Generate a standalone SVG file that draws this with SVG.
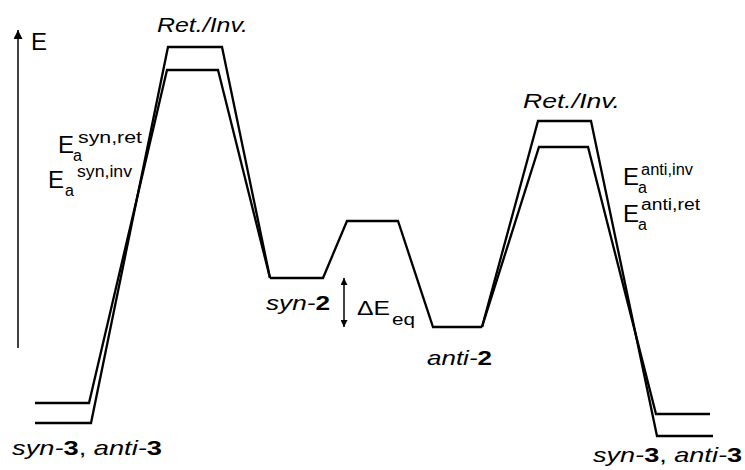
<svg xmlns="http://www.w3.org/2000/svg" width="745" height="470" viewBox="0 0 745 470">
<style>
.lvl{fill:none;stroke:#000;stroke-width:2.3;stroke-linejoin:miter}
.ax{fill:none;stroke:#000;stroke-width:1.5}
text{font-family:"Liberation Sans",Arial,sans-serif;fill:#000}
.big{font-size:24px}
.lab{font-size:21px}
.sup{font-size:16px}
.sub{font-size:16px}
.it{font-style:italic}
.b{font-weight:bold;font-style:normal}
</style>
<defs>
<marker id="ah" viewBox="0 0 10 10" refX="10" refY="5" markerWidth="14" markerHeight="9" markerUnits="userSpaceOnUse" orient="auto-start-reverse">
<path d="M0,0 L10,5 L0,10 Z" fill="#000"/>
</marker>
<marker id="ahs" viewBox="0 0 10 10" refX="10" refY="5" markerWidth="8" markerHeight="7" markerUnits="userSpaceOnUse" orient="auto-start-reverse">
<path d="M0,0 L10,5 L0,10 Z" fill="#000"/>
</marker>
</defs>
<rect width="745" height="470" fill="#fff"/>
<g id="axis">
<line class="ax" x1="18" y1="348" x2="18" y2="30" marker-end="url(#ah)"/>
<text class="big" x="31" y="50">E</text>
</g>
<g id="connectors">
<path class="lvl" d="M35,423 L91,423 L168,47 L222,47 L270,278"/>
<path class="lvl" d="M35,403 L89,403 L167,70 L218,70 L270,278"/>
<path class="lvl" d="M270,278 L323,278 L347,221 L398,221 L433,327 L482,327"/>
<path class="lvl" d="M482,327 L538,121 L591,121 L657,436 L713,436"/>
<path class="lvl" d="M482,327 L539,147 L588,147 L656,414 L710,414"/>
<line class="ax" x1="344" y1="278" x2="344" y2="327" marker-start="url(#ahs)" marker-end="url(#ahs)"/>
</g>
<g id="ts-left">
<text class="lab it" x="157" y="32" textLength="91" lengthAdjust="spacingAndGlyphs">Ret./Inv.</text>
</g>
<g id="ts-right">
<text class="lab it" x="523" y="108" textLength="97" lengthAdjust="spacingAndGlyphs">Ret./Inv.</text>
</g>
<g id="ea-syn">
<text class="big" x="58" y="153">E</text>
<text class="sub" x="73" y="161">a</text>
<text class="sup" x="78" y="143" textLength="64" lengthAdjust="spacingAndGlyphs">syn,ret</text>
<text class="big" x="48" y="188">E</text>
<text class="sub" x="65" y="196">a</text>
<text class="sup" x="77" y="177" textLength="55" lengthAdjust="spacingAndGlyphs">syn,inv</text>
</g>
<g id="ea-anti">
<text class="big" x="623" y="185">E</text>
<text class="sub" x="638" y="193">a</text>
<text class="sup" x="641" y="175" textLength="52" lengthAdjust="spacingAndGlyphs">anti,inv</text>
<text class="big" x="623" y="222">E</text>
<text class="sub" x="638" y="230">a</text>
<text class="sup" x="641" y="210" textLength="59" lengthAdjust="spacingAndGlyphs">anti,ret</text>
</g>
<g id="syn3-left">
<text class="lab" x="12" y="455" textLength="150" lengthAdjust="spacingAndGlyphs"><tspan class="it">syn-</tspan><tspan class="b">3</tspan>, <tspan class="it">anti-</tspan><tspan class="b">3</tspan></text>
</g>
<g id="syn3-right">
<text class="lab" x="593" y="462" textLength="149" lengthAdjust="spacingAndGlyphs"><tspan class="it">syn-</tspan><tspan class="b">3</tspan>, <tspan class="it">anti-</tspan><tspan class="b">3</tspan></text>
</g>
<g id="syn2">
<text class="lab" x="266" y="310" textLength="64" lengthAdjust="spacingAndGlyphs"><tspan class="it">syn-</tspan><tspan class="b">2</tspan></text>
</g>
<g id="anti2">
<text class="lab" x="427" y="365" textLength="65" lengthAdjust="spacingAndGlyphs"><tspan class="it">anti-</tspan><tspan class="b">2</tspan></text>
</g>
<g id="deq">
<text class="lab" x="357" y="315" textLength="33" lengthAdjust="spacingAndGlyphs">ΔE</text>
<text class="sup" x="392" y="325" textLength="23" lengthAdjust="spacingAndGlyphs">eq</text>
</g>
</svg>
